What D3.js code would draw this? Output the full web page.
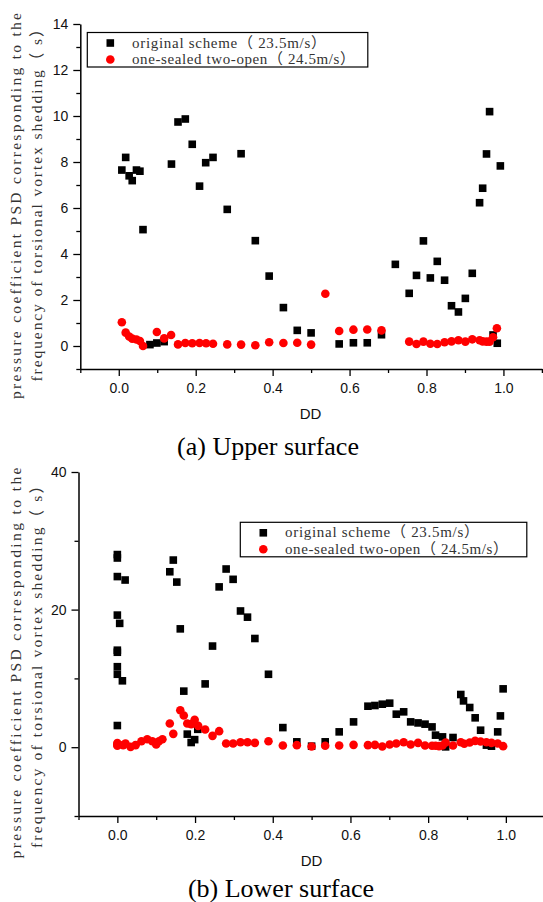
<!DOCTYPE html>
<html>
<head>
<meta charset="utf-8">
<script src="https://cdn.jsdelivr.net/npm/d3@7"></script>
<style>
  html, body { margin: 0; padding: 0; background: #fff; }
  svg { display: block; }
</style>
</head>
<body>
<script>
// ---- (a) Upper surface ----
const upperOriginalDD = [0.008, 0.018, 0.027, 0.035, 0.046, 0.055, 0.063, 0.081, 0.099, 0.118,
  0.137, 0.154, 0.173, 0.191, 0.210, 0.226, 0.245, 0.282, 0.318, 0.355, 0.391, 0.428, 0.464, 0.500,
  0.573, 0.610, 0.646, 0.683, 0.719, 0.755, 0.774, 0.792, 0.810, 0.828, 0.847, 0.865, 0.883, 0.901,
  0.919, 0.938, 0.946, 0.956, 0.964, 0.973, 0.984, 0.992];
const upperOriginalPSD = [7.65, 8.2, 7.4, 7.19, 7.65, 7.6, 5.06, 0.06, 0.13, 0.19,
  7.91, 9.74, 9.87, 8.77, 6.95, 7.97, 8.2, 5.94, 8.36, 4.58, 3.04, 1.67, 0.68, 0.57,
  0.09, 0.14, 0.14, 0.49, 3.55, 2.29, 3.07, 4.57, 2.96, 3.68, 2.86, 1.75, 1.48, 2.07,
  3.16, 6.23, 6.86, 8.35, 10.19, 0.48, 0.12, 7.83];

const upperSealedDD = [0.008, 0.018, 0.027, 0.035, 0.046, 0.055, 0.063, 0.099, 0.118, 0.136,
  0.154, 0.173, 0.191, 0.210, 0.227, 0.245, 0.282, 0.318, 0.355, 0.391, 0.428, 0.464, 0.500,
  0.537, 0.573, 0.610, 0.646, 0.683, 0.755, 0.774, 0.792, 0.810, 0.828, 0.847, 0.865, 0.883,
  0.901, 0.919, 0.938, 0.946, 0.956, 0.964, 0.973, 0.983];
const upperSealedPSD = [1.03, 0.58, 0.41, 0.32, 0.28, 0.22, 0.0, 0.61, 0.33, 0.48,
  0.07, 0.13, 0.12, 0.13, 0.12, 0.10, 0.07, 0.06, 0.03, 0.16, 0.13, 0.14, 0.06,
  2.27, 0.65, 0.71, 0.72, 0.68, 0.19, 0.09, 0.19, 0.10, 0.09, 0.16, 0.20, 0.25,
  0.19, 0.29, 0.25, 0.20, 0.19, 0.19, 0.38, 0.77];

// ---- (b) Lower surface ----
const lowerOriginalDD = [0.0, 0.0, 0.0, 0.020, 0.0, 0.006, 0.0, 0.0, 0.0, 0.0, 0.013, 0.0,
  0.135, 0.144, 0.153, 0.162, 0.171, 0.180, 0.190, 0.199, 0.207, 0.226, 0.245, 0.262, 0.280,
  0.298, 0.317, 0.335, 0.354, 0.389, 0.426, 0.462, 0.500, 0.535, 0.571, 0.608, 0.645, 0.663,
  0.682, 0.701, 0.718, 0.737, 0.755, 0.774, 0.792, 0.810, 0.819, 0.837, 0.845, 0.864, 0.884,
  0.891, 0.907, 0.921, 0.935, 0.950, 0.963, 0.979, 0.986, 0.993];
const lowerOriginalPSD = [28.0, 27.5, 24.8, 24.3, 19.2, 18.0, 14.1, 13.8, 11.7, 10.6, 9.65, 3.15,
  25.5, 27.2, 24.0, 17.2, 8.15, 1.9, 0.68, 1.1, 2.6, 9.2, 14.7, 23.3, 25.9,
  24.4, 19.8, 18.9, 15.8, 10.6, 2.85, 0.78, 0.15, 0.78, 2.23, 3.68, 5.96, 6.06,
  6.25, 6.4, 4.8, 5.14, 3.68, 3.53, 3.35, 2.95, 1.75, 1.5, 0.05, 1.41, 7.66,
  6.73, 5.77, 4.27, 2.47, 0.3, 0.15, 2.23, 4.55, 8.48];

const lowerSealedDD = [0.0, 0.0, 0.0, 0.015, 0.021, 0.034, 0.047, 0.062, 0.077, 0.090, 0.100,
  0.107, 0.116, 0.135, 0.144, 0.162, 0.171, 0.180, 0.190, 0.199, 0.208, 0.226, 0.245, 0.262,
  0.280, 0.298, 0.317, 0.335, 0.354, 0.389, 0.426, 0.462, 0.500, 0.535, 0.571, 0.608, 0.645,
  0.663, 0.682, 0.701, 0.718, 0.737, 0.755, 0.774, 0.792, 0.810, 0.819, 0.828, 0.837, 0.845,
  0.864, 0.884, 0.893, 0.907, 0.921, 0.935, 0.950, 0.963, 0.979, 0.993];
const lowerSealedPSD = [0.6, 0.2, 0.4, 0.3, 0.53, 0.05, 0.3, 0.87, 1.16, 0.87, 0.39,
  0.87, 1.16, 3.44, 1.94, 5.38, 4.6, 3.44, 3.35, 4.0, 3.1, 2.57, 1.65, 2.33,
  0.53, 0.53, 0.73, 0.73, 0.63, 0.87, 0.24, 0.3, 0.1, 0.2, 0.24, 0.34, 0.3,
  0.34, 0.1, 0.39, 0.53, 0.73, 0.39, 0.63, 0.24, 0.2, 0.2, 0.15, 0.24, 0.68,
  0.24, 0.73, 0.5, 0.68, 0.92, 0.82, 0.73, 0.63, 0.53, 0.15];

// ---- axis ticks and labels ----
const xMajorTicks = [0.0, 0.2, 0.4, 0.6, 0.8, 1.0];
const xMinorTicks = [-0.1, 0.1, 0.3, 0.5, 0.7, 0.9, 1.1];
const upperYMajorTicks = [0, 2, 4, 6, 8, 10, 12, 14];
const upperYMinorTicks = [-1, 1, 3, 5, 7, 9, 11, 13];
const lowerYMajorTicks = [0, 20, 40];
const lowerYMinorTicks = [-10, 10, 30];

const seriesNames = ["original scheme（ 23.5m/s）", "one-sealed two-open（ 24.5m/s）"];
const yTitleLines = ["pressure coefficient PSD corresponding to the",
                     "frequency of torsional vortex shedding（ s）"];
const xTitle = "DD";
const captions = ["(a) Upper surface", "(b) Lower surface"];

const W = 543, H = 902;
const svg = d3.select("body").append("svg").attr("width", W).attr("height", H);

// thin serif face, letters spread out to an even pitch
const labelFont = "'Liberation Serif', 'Noto Sans CJK SC', serif";
const sansFont = "'Liberation Sans', Arial, sans-serif";
const serifFont = "'Liberation Serif', 'Times New Roman', serif";

function drawPanel(p) {
  const x = d3.scaleLinear().domain([-0.1, 1.1]).range(p.xRange);
  const y = d3.scaleLinear().domain(p.yDomain).range(p.yRange);
  const g = svg.append("g");

  // axes: majors with labels, minors shorter
  g.append("g").attr("transform", `translate(0,${p.yRange[0]})`)
    .call(d3.axisBottom(x).tickValues(xMajorTicks).tickSize(7).tickSizeOuter(0)
      .tickPadding(7).tickFormat(d3.format(".1f")));
  g.append("g").attr("transform", `translate(0,${p.yRange[0]})`)
    .call(d3.axisBottom(x).tickValues(xMinorTicks).tickSize(4).tickFormat(""))
    .select(".domain").remove();

  g.append("g").attr("transform", `translate(${p.xRange[0]},0)`)
    .call(d3.axisLeft(y).tickValues(p.yMajor).tickSize(7).tickSizeOuter(0)
      .tickPadding(5).tickFormat(d3.format("d")));
  g.append("g").attr("transform", `translate(${p.xRange[0]},0)`)
    .call(d3.axisLeft(y).tickValues(p.yMinor).tickSize(4).tickFormat(""))
    .select(".domain").remove();

  g.selectAll(".domain").attr("stroke", "#000").attr("stroke-width", 1.5);
  g.selectAll(".tick line").attr("stroke", "#000").attr("stroke-width", 1.3);
  g.selectAll(".tick text").attr("fill", "#111")
    .style("font-family", sansFont).style("font-size", "14px");

  // markers: squares (original) under circles (one-sealed two-open)
  const sq = 7.6;
  g.append("g").selectAll("rect")
    .data(d3.zip(p.origDD, p.origPSD)).join("rect")
    .attr("x", d => x(d[0]) - sq / 2).attr("y", d => y(d[1]) - sq / 2)
    .attr("width", sq).attr("height", sq).attr("fill", "#000");
  g.append("g").selectAll("circle")
    .data(d3.zip(p.sealDD, p.sealPSD)).join("circle")
    .attr("cx", d => x(d[0])).attr("cy", d => y(d[1]))
    .attr("r", 4.3).attr("fill", "#ff0000");

  // legend
  const lg = g.append("g");
  lg.append("rect").attr("x", p.legend.x).attr("y", p.legend.y)
    .attr("width", p.legend.w).attr("height", 34.5)
    .attr("fill", "#fff").attr("stroke", "#000").attr("stroke-width", 1.2);
  const row1 = p.legend.y + 10.5, row2 = row1 + 16.5;
  const mx = p.legend.x + 23;
  lg.append("rect").attr("x", mx - sq / 2).attr("y", row1 - sq / 2)
    .attr("width", sq).attr("height", sq).attr("fill", "#000");
  lg.append("circle").attr("cx", mx).attr("cy", row2).attr("r", 4.3).attr("fill", "#ff0000");
  [[seriesNames[0], row1, 194], [seriesNames[1], row2, 223]].forEach(([t, ry, len]) => {
    lg.append("text").attr("x", mx + 21.7).attr("y", ry + 4.5)
      .attr("textLength", len).attr("lengthAdjust", "spacing")
      .style("font-family", labelFont).style("font-size", "15px").attr("fill", "#333")
      .text(t);
  });

  // axis titles
  g.append("text").attr("x", p.xTitleX).attr("y", p.yRange[0] + 50)
    .attr("text-anchor", "middle").style("font-family", sansFont).style("font-size", "15px")
    .attr("fill", "#111").text(xTitle);

  p.yTitle.forEach((l, i) => {
    g.append("text")
      .attr("transform", `translate(${l.x},${l.cy}) rotate(-90)`)
      .attr("text-anchor", "middle")
      .attr("textLength", l.len).attr("lengthAdjust", "spacing")
      .style("font-family", labelFont).style("font-size", "15.5px").attr("fill", "#333")
      .text(yTitleLines[i]);
  });

  g.append("text").attr("x", p.caption.x).attr("y", p.caption.y)
    .attr("text-anchor", "middle").style("font-family", serifFont).style("font-size", "26px")
    .attr("fill", "#000").text(p.caption.text);
}

drawPanel({
  xRange: [80.3, 541.9], yDomain: [-1, 14], yRange: [369, 24],
  yMajor: upperYMajorTicks, yMinor: upperYMinorTicks,
  origDD: upperOriginalDD, origPSD: upperOriginalPSD,
  sealDD: upperSealedDD, sealPSD: upperSealedPSD,
  legend: { x: 87.3, y: 32.5, w: 280.5 },
  xTitleX: 310.5,
  yTitle: [{ x: 21, cy: 206, len: 386 }, { x: 41.5, cy: 201.5, len: 360 }],
  caption: { x: 268, y: 455, text: captions[0] }
});

drawPanel({
  xRange: [78.5, 544.7], yDomain: [-10, 40], yRange: [816, 472],
  yMajor: lowerYMajorTicks, yMinor: lowerYMinorTicks,
  origDD: lowerOriginalDD, origPSD: lowerOriginalPSD,
  sealDD: lowerSealedDD, sealPSD: lowerSealedPSD,
  legend: { x: 240.3, y: 522.3, w: 286.5 },
  xTitleX: 311.5,
  yTitle: [{ x: 21, cy: 663, len: 391 }, { x: 41.5, cy: 663, len: 370 }],
  caption: { x: 281, y: 897, text: captions[1] }
});
</script>
</body>
</html>
